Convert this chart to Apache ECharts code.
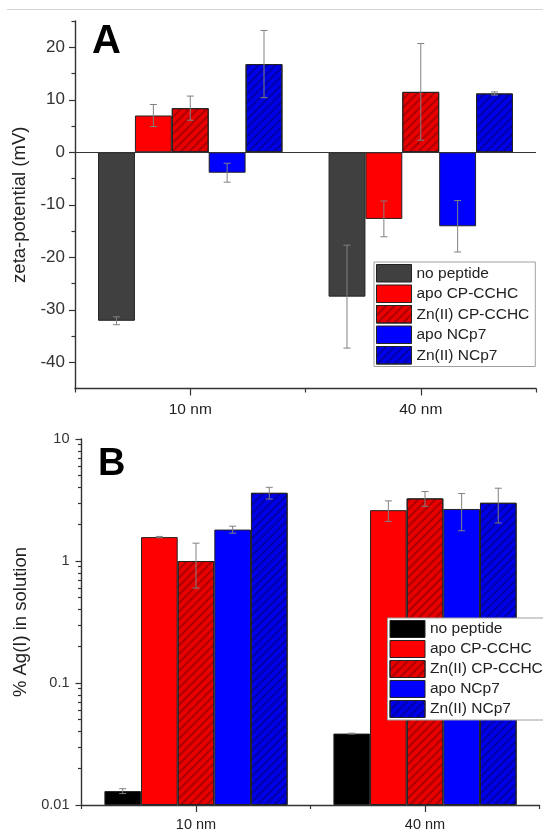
<!DOCTYPE html>
<html>
<head>
<meta charset="utf-8">
<script src="https://cdn.jsdelivr.net/npm/echarts@6/dist/echarts.min.js"></script>
<style>
  html, body { margin: 0; padding: 0; background: #fff; }
  #chart { width: 543px; height: 832px; }
</style>
</head>
<body>
<div id="chart"></div>
<script>
// Particle sizes on the category axes
const categories = ['10 nm', '40 nm'];
const seriesNames = ['no peptide', 'apo CP-CCHC', 'Zn(II) CP-CCHC', 'apo NCp7', 'Zn(II) NCp7'];

// Panel A: zeta-potential (mV), mean and error per size
const zetaNoPeptide = [-32.1, -27.5];
const zetaApoCP = [7.0, -12.7];
const zetaZnCP = [8.4, 11.5];
const zetaApoNC = [-3.9, -14.1];
const zetaZnNC = [16.8, 11.2];
const zetaErrNoPeptide = [0.75, 9.8];
const zetaErrApoCP = [2.1, 3.4];
const zetaErrZnCP = [2.3, 9.2];
const zetaErrApoNC = [1.8, 4.9];
const zetaErrZnNC = [6.4, 0.3];

// Panel B: % Ag(I) in solution, mean and error per size
const agNoPeptide = [0.013, 0.0385];
const agApoCP = [1.57, 2.61];
const agZnCP = [1.0, 3.26];
const agApoNC = [1.81, 2.67];
const agZnNC = [3.62, 3.0];
const agErrNoPeptide = [0.0006, 0.0003];
const agErrApoCP = [0.02, 0.5];
const agErrZnCP = [0.4, 0.45];
const agErrApoNC = [0.12, 0.9];
const agErrZnNC = [0.4, 0.95];

// Axis ticks
const zetaTicks = [-40, -30, -20, -10, 0, 10, 20];
const zetaMinorTicks = [-35, -25, -15, -5, 5, 15, 25];
const agTicks = [0.01, 0.1, 1, 10];
const agDecades = [0.01, 0.1, 1];
const agMinorSteps = [2, 3, 4, 5, 6, 7, 8, 9];
const agMinorTicks = [];
agDecades.forEach(d => agMinorSteps.forEach(m => agMinorTicks.push(+(m * d).toPrecision(3))));

const FONT = 'Liberation Sans, Arial, Helvetica, sans-serif';
const AXIS_COLOR = '#333';

// Diagonal hatching for the Zn(II)-loaded peptides
function hatch(color) {
  return {
    symbol: 'rect', symbolSize: 1, color: color,
    dashArrayX: [1, 0], dashArrayY: [1.3, 3.9], rotation: -Math.PI / 4
  };
}

const styleA = [
  { color: '#404040' },
  { color: '#ff0000' },
  { color: '#e80000', decal: hatch('rgba(100,0,0,0.45)') },
  { color: '#0000ff' },
  { color: '#0000e8', decal: hatch('rgba(0,0,90,0.45)') }
];
const styleB = [
  { color: '#000000' },
  { color: '#ff0000' },
  { color: '#e80000', decal: hatch('rgba(100,0,0,0.45)') },
  { color: '#0000ff' },
  { color: '#0000e8', decal: hatch('rgba(0,0,90,0.45)') }
];

const zetaValues = [zetaNoPeptide, zetaApoCP, zetaZnCP, zetaApoNC, zetaZnNC];
const zetaErrors = [zetaErrNoPeptide, zetaErrApoCP, zetaErrZnCP, zetaErrApoNC, zetaErrZnNC];
const agValues = [agNoPeptide, agApoCP, agZnCP, agApoNC, agZnNC];
const agErrors = [agErrNoPeptide, agErrApoCP, agErrZnCP, agErrApoNC, agErrZnNC];

const BAR_GROUP = 0.8; // share of a category band covered by its bars

// Error bars centred on each bar of a 5-bar group
function errorBars(params, api) {
  const cat = api.value(0), s = api.value(1), v = api.value(2), e = api.value(3);
  const c = api.coord([cat, v]);
  const band = api.size([1, 0], [cat, v])[0];
  const bw = band * BAR_GROUP / seriesNames.length;
  const x = c[0] + (s - (seriesNames.length - 1) / 2) * bw;
  const yHi = api.coord([cat, v + e])[1];
  const yLo = api.coord([cat, v - e])[1];
  const cap = 3.5;
  const st = { stroke: '#808080', lineWidth: 1 };
  return {
    type: 'group',
    children: [
      { type: 'line', shape: { x1: x, y1: yHi, x2: x, y2: yLo }, style: st },
      { type: 'line', shape: { x1: x - cap, y1: yHi, x2: x + cap, y2: yHi }, style: st },
      { type: 'line', shape: { x1: x - cap, y1: yLo, x2: x + cap, y2: yLo }, style: st }
    ]
  };
}

function errData(values, errors) {
  const out = [];
  values.forEach((arr, s) => arr.forEach((v, c) => out.push([c, s, v, errors[s][c]])));
  return out;
}

function legendData(styles) {
  return seriesNames.map((n, i) => ({
    name: n,
    itemStyle: Object.assign({ borderColor: '#222', borderWidth: 1 }, styles[i])
  }));
}

const axisLine = { show: true, lineStyle: { color: AXIS_COLOR, width: 1.4 } };

const series = [];
seriesNames.forEach((n, i) => {
  series.push({
    name: n, type: 'bar', xAxisIndex: 0, yAxisIndex: 0,
    data: zetaValues[i],
    barGap: '0%', barCategoryGap: '20%',
    itemStyle: Object.assign({ borderColor: '#222', borderWidth: 1 }, styleA[i]),
    silent: true,
    markLine: i === 0 ? {
      silent: true, symbol: ['none', 'none'],
      label: { show: false },
      lineStyle: { color: AXIS_COLOR, width: 1.2, type: 'solid' },
      data: [{ yAxis: 0 }]
    } : undefined
  });
});
seriesNames.forEach((n, i) => {
  series.push({
    name: n, type: 'bar', xAxisIndex: 2, yAxisIndex: 1,
    data: agValues[i],
    barGap: '0%', barCategoryGap: '20%',
    itemStyle: Object.assign({ borderColor: '#222', borderWidth: 1 }, styleB[i]),
    silent: true
  });
});
series.push({
  type: 'custom', xAxisIndex: 0, yAxisIndex: 0, z: 3, silent: true,
  renderItem: errorBars, encode: { x: 0, y: 2 },
  data: errData(zetaValues, zetaErrors)
});
series.push({
  type: 'custom', xAxisIndex: 2, yAxisIndex: 1, z: 3, silent: true,
  renderItem: errorBars, encode: { x: 0, y: 2 },
  data: errData(agValues, agErrors)
});

const chart = echarts.init(document.getElementById('chart'), null, { renderer: 'canvas' });
chart.setOption({
  backgroundColor: '#fff',
  animation: false,
  textStyle: { fontFamily: FONT },
  grid: [
    { left: 75, top: 21, width: 461, height: 367.5 },
    { left: 81.5, top: 439, width: 458, height: 368.5 }
  ],
  xAxis: [
    { // A: category labels, boundary ticks
      type: 'category', gridIndex: 0, data: categories, position: 'bottom',
      axisLine: Object.assign({ onZero: false }, axisLine),
      axisTick: { show: true, length: 4, lineStyle: { color: AXIS_COLOR, width: 1.2 } },
      axisLabel: { fontSize: 15.5, color: '#222', margin: 13, fontFamily: FONT },
      splitLine: { show: false }
    },
    { // A: centre ticks
      type: 'category', gridIndex: 0, data: categories, position: 'bottom',
      axisLine: { show: false, onZero: false },
      axisTick: { show: true, alignWithLabel: true, length: 7, lineStyle: { color: AXIS_COLOR, width: 1.2 } },
      axisLabel: { show: false }, splitLine: { show: false }
    },
    { // B: category labels, boundary ticks
      type: 'category', gridIndex: 1, data: categories, position: 'bottom',
      axisLine: Object.assign({ onZero: false }, axisLine),
      axisTick: { show: true, length: 4, lineStyle: { color: AXIS_COLOR, width: 1.2 } },
      axisLabel: { fontSize: 14.5, color: '#222', margin: 12, fontFamily: FONT },
      splitLine: { show: false }
    },
    { // B: centre ticks
      type: 'category', gridIndex: 1, data: categories, position: 'bottom',
      axisLine: { show: false, onZero: false },
      axisTick: { show: true, alignWithLabel: true, length: 7, lineStyle: { color: AXIS_COLOR, width: 1.2 } },
      axisLabel: { show: false }, splitLine: { show: false }
    }
  ],
  yAxis: [
    { // A: zeta-potential
      type: 'value', gridIndex: 0, min: -45, max: 25, position: 'left',
      name: 'zeta-potential (mV)', nameLocation: 'middle', nameGap: 37,
      nameTextStyle: { fontSize: 18.5, color: '#222', fontFamily: FONT },
      axisLine: Object.assign({ onZero: false }, axisLine),
      axisTick: { show: true, length: 6, customValues: zetaTicks, lineStyle: { color: AXIS_COLOR, width: 1.2 } },
      axisLabel: { fontSize: 17, color: '#333', margin: 10, customValues: zetaTicks, fontFamily: FONT },
      splitLine: { show: false }
    },
    { // B: % Ag(I), logarithmic; bars rise from the bottom of the axis
      type: 'log', logBase: 10, gridIndex: 1, min: 0.01, max: 10, startValue: 0.01, position: 'left',
      name: '% Ag(I) in solution', nameLocation: 'middle', nameGap: 46,
      nameTextStyle: { fontSize: 18.5, color: '#222', fontFamily: FONT },
      axisLine: Object.assign({ onZero: false }, axisLine),
      axisTick: { show: true, length: 6, customValues: agTicks, lineStyle: { color: AXIS_COLOR, width: 1.2 } },
      axisLabel: { fontSize: 14.5, color: '#333', margin: 12, customValues: agTicks,
        formatter: v => String(+(+v).toPrecision(3)), fontFamily: FONT },
      splitLine: { show: false }
    },
    { // A: minor ticks
      type: 'value', gridIndex: 0, min: -45, max: 25, position: 'left', offset: 0,
      axisLine: { show: false, onZero: false },
      axisTick: { show: true, length: 3.5, customValues: zetaMinorTicks, lineStyle: { color: AXIS_COLOR, width: 1.2 } },
      axisLabel: { show: false }, splitLine: { show: false }
    },
    { // B: minor ticks within each decade
      type: 'log', logBase: 10, gridIndex: 1, min: 0.01, max: 10, position: 'left', offset: 0,
      axisLine: { show: false, onZero: false },
      axisTick: { show: true, length: 3.5, customValues: agMinorTicks, lineStyle: { color: AXIS_COLOR, width: 1.2 } },
      axisLabel: { show: false }, splitLine: { show: false }
    }
  ],
  legend: [
    {
      left: 374, top: 262, orient: 'vertical', icon: 'rect',
      itemWidth: 35, itemHeight: 17.5, itemGap: 2, padding: [2, 6, 2, 2],
      borderColor: '#a0a0a0', borderWidth: 1, backgroundColor: '#fff',
      selectedMode: false,
      textStyle: { fontSize: 15.5, color: '#222', fontFamily: FONT },
      data: legendData(styleA)
    },
    {
      left: 387.5, top: 618, orient: 'vertical', icon: 'rect',
      itemWidth: 35, itemHeight: 17, itemGap: 2, padding: [2, 8, 2, 2],
      borderColor: '#a0a0a0', borderWidth: 1, backgroundColor: '#fff',
      selectedMode: false,
      textStyle: { fontSize: 15.5, color: '#222', fontFamily: FONT },
      data: legendData(styleB)
    }
  ],
  graphic: [
    { type: 'line', shape: { x1: 7, y1: 9.5, x2: 543, y2: 9.5 }, style: { stroke: '#d4d4d4', lineWidth: 1 }, silent: true },
    { type: 'text', left: 92, top: 22, z: 10, style: { text: 'A', font: 'bold 40px ' + FONT, fill: '#000' } },
    { type: 'text', left: 98, top: 446, z: 10, style: { text: 'B', font: 'bold 38px ' + FONT, fill: '#000' } }
  ],
  series: series
});
</script>
</body>
</html>
